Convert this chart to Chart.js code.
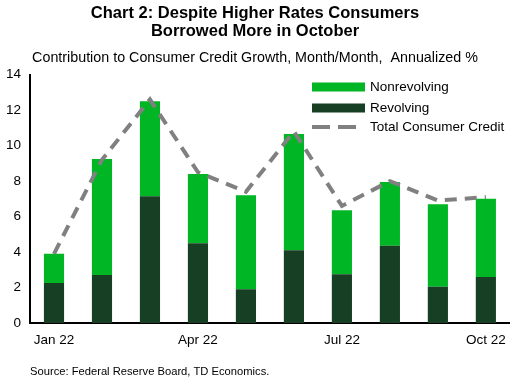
<!DOCTYPE html>
<html>
<head>
<meta charset="utf-8">
<script src="https://cdn.jsdelivr.net/npm/chart.js@4"></script>
<style>
  html, body { margin: 0; padding: 0; background: #fff; }
  #wrap { width: 515px; height: 384px; }
</style>
</head>
<body>
<div id="wrap"><canvas id="myChart" width="515" height="384"></canvas></div>
<script>
var months = ["Jan 22", "Feb 22", "Mar 22", "Apr 22", "May 22", "Jun 22", "Jul 22", "Aug 22", "Sep 22", "Oct 22"];
var revolving = [2.25, 2.7, 7.15, 4.5, 1.9, 4.1, 2.75, 4.35, 2.05, 2.6];
var nonrevolving = [1.65, 6.55, 5.35, 3.9, 5.3, 6.55, 3.6, 3.6, 4.65, 4.4];
var totalCredit = [3.9, 9.2, 12.6, 8.5, 7.4, 10.8, 6.6, 8.0, 6.9, 7.1];
var yTicks = [0, 2, 4, 6, 8, 10, 12, 14];

var fontName = "'Liberation Sans', Arial, sans-serif";

// legend + source drawn by hand so it sits inside the plot
var extras = {
  id: "extras",
  afterDraw: function (chart) {
    var ctx = chart.ctx;
    var ds = chart.data.datasets;
    ctx.save();
    ctx.font = "13.5px " + fontName;
    ctx.fillStyle = "#000";
    ctx.textBaseline = "middle";
    ctx.textAlign = "left";
    var rows = [ds[1], ds[0], ds[2]];
    var ys = [87, 108, 127];
    for (var i = 0; i < rows.length; i++) {
      var d = rows[i];
      if (d.type === "line") {
        ctx.strokeStyle = d.borderColor;
        ctx.lineWidth = d.borderWidth;
        ctx.setLineDash([18, 8]);
        ctx.beginPath();
        ctx.moveTo(312, ys[i]);
        ctx.lineTo(362, ys[i]);
        ctx.stroke();
        ctx.setLineDash([]);
      } else {
        ctx.fillStyle = d.backgroundColor;
        ctx.fillRect(312, ys[i] - 4.5, 53, 9);
      }
      ctx.fillStyle = "#000";
      ctx.fillText(d.label, 370, ys[i]);
    }
    ctx.font = "11.2px " + fontName;
    ctx.fillText("Source: Federal Reserve Board, TD Economics.", 30, 372);
    ctx.restore();
  }
};

new Chart("myChart", {
  type: "bar",
  data: {
    labels: months,
    datasets: [
      {
        label: "Revolving",
        data: revolving,
        backgroundColor: "#173F23",
        stack: "credit",
        order: 1,
        categoryPercentage: 1,
        barPercentage: 0.42
      },
      {
        label: "Nonrevolving",
        data: nonrevolving,
        backgroundColor: "#00B624",
        stack: "credit",
        order: 1,
        categoryPercentage: 1,
        barPercentage: 0.42
      },
      {
        type: "line",
        label: "Total Consumer Credit",
        data: totalCredit,
        borderColor: "#808080",
        borderWidth: 4,
        borderDash: [12, 8],
        pointRadius: 0,
        fill: false,
        stack: "total",
        order: 0
      }
    ]
  },
  plugins: [extras],
  options: {
    responsive: false,
    animation: false,
    layout: { padding: { top: 4, right: 5, bottom: 31, left: 0 } },
    plugins: {
      legend: { display: false },
      tooltip: { enabled: false },
      title: {
        display: true,
        text: ["Chart 2: Despite Higher Rates Consumers", "Borrowed More in October"],
        color: "#000",
        font: { family: fontName, size: 16.5, weight: "bold", lineHeight: 1.12 },
        padding: { top: 0, bottom: 9 }
      },
      subtitle: {
        display: true,
        text: "Contribution to Consumer Credit Growth, Month/Month,  Annualized %",
        color: "#000",
        font: { family: fontName, size: 14.3, lineHeight: 1.1 },
        padding: { top: 0, bottom: 9 }
      }
    },
    scales: {
      x: {
        stacked: true,
        offset: true,
        grid: { display: false, drawTicks: false },
        border: { color: "#000", width: 2 },
        ticks: {
          color: "#000",
          font: { family: fontName, size: 13.5 },
          padding: 9,
          autoSkip: false,
          maxRotation: 0,
          callback: function (v, i) { return i % 3 === 0 ? months[i] : ""; }
        },
        afterFit: function (s) { s.height = 30; }
      },
      y: {
        stacked: true,
        min: 0,
        max: 14,
        grid: { display: false, drawTicks: false },
        border: { color: "#000", width: 2 },
        afterBuildTicks: function (s) { s.ticks = yTicks.map(function (v) { return { value: v }; }); },
        ticks: {
          color: "#000",
          font: { family: fontName, size: 13.5 },
          padding: 9
        },
        afterFit: function (s) { s.width = 30; }
      }
    }
  }
});
</script>
</body>
</html>
